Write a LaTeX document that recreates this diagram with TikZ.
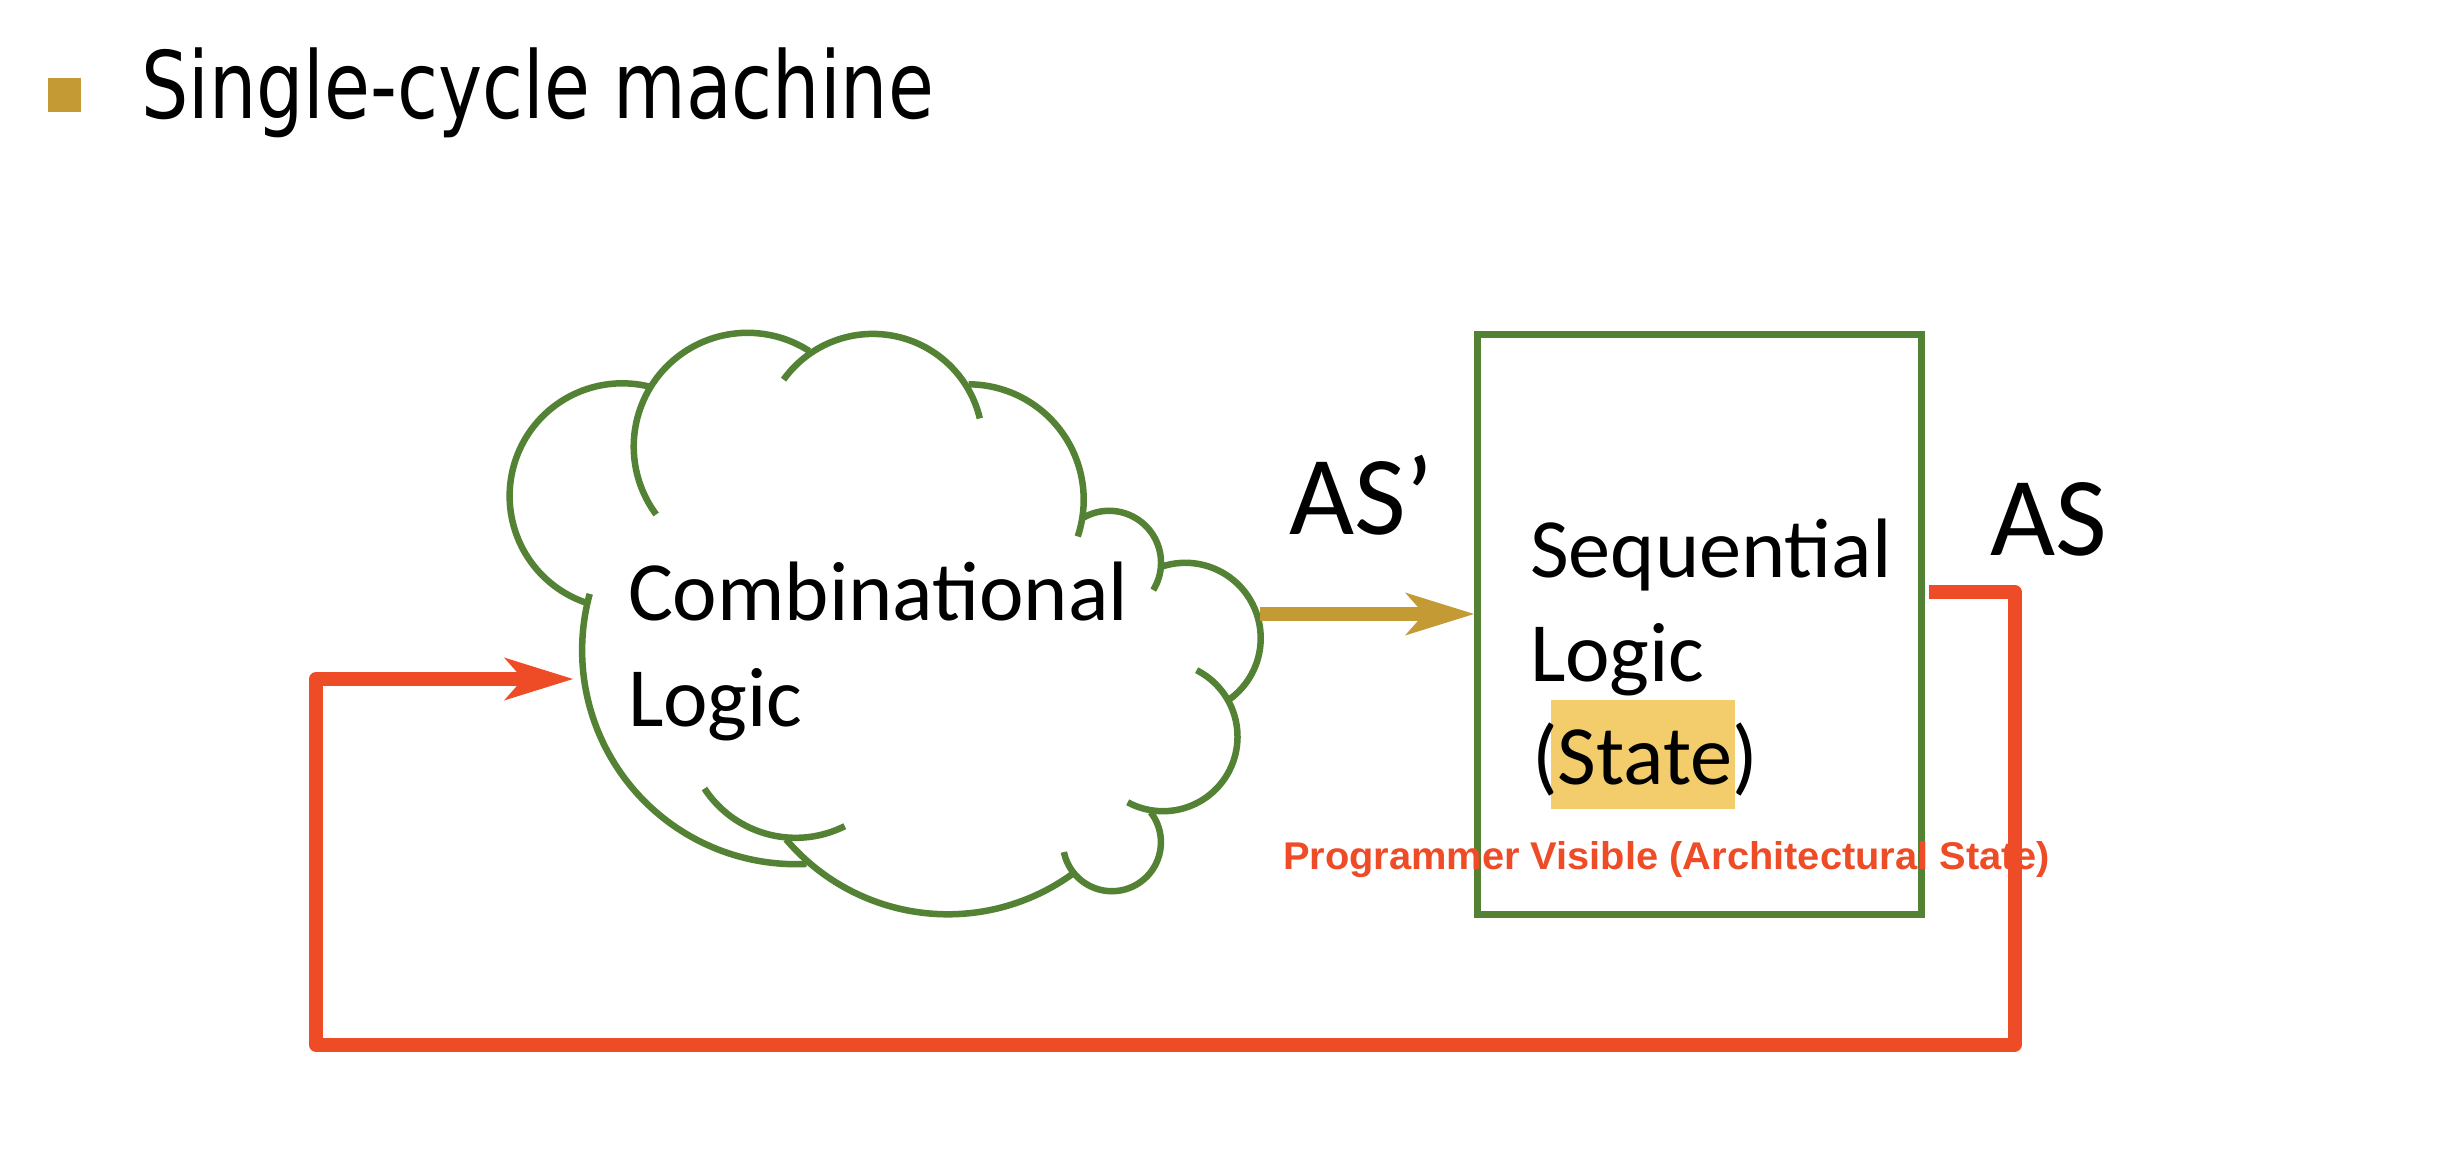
\documentclass[tikz,border=0pt]{standalone}
\usepackage{fontspec}
\setmainfont{Carlito}
\newfontfamily\titlefont{DejaVu Sans Condensed}
\newfontfamily\notefont{Liberation Sans}
\usetikzlibrary{arrows.meta}
\definecolor{cgreen}{HTML}{548235}
\definecolor{cgold}{HTML}{C49A34}
\definecolor{cred}{HTML}{EE4B27}
\definecolor{chigh}{HTML}{F3CC6C}
\tikzset{
  lobe/.style={draw=cgreen, line width=0.65mm},
  txt/.style={anchor=base west, inner sep=0pt, outer sep=0pt},
  bodytext/.style={txt, font=\fontsize{24}{29}\selectfont},
  astext/.style={txt, font=\fontsize{32}{38}\selectfont},
  headtip/.style={-{Stealth[length=6.9mm,width=4.3mm,inset=1.9mm,line width=0pt]}},
  goldflow/.style={draw=cgold, line width=1.4mm, headtip},
  redflow/.style={draw=cred, line width=1.4mm, line join=round, headtip}
}
% arc of the cloud: centre x, centre y, radius, start angle, end angle
\newcommand{\cloudarc}[5]{\draw[lobe] plot[domain=#4:#5, samples=72, variable=\t] ({#1+#3*cos(\t)},{#2+#3*sin(\t)});}
\begin{document}
\begin{tikzpicture}[x=0.1mm,y=-0.1mm]
\useasboundingbox (0,0) rectangle (2464,1148);
\fill[white] (0,0) rectangle (2464,1148);

% title
\node[fill=cgold, minimum width=3.3mm, minimum height=3.4mm, inner sep=0pt] (bullet) at (64.5,95.5) {};
\node[txt, font=\titlefont\fontsize{26.5}{30}\selectfont] (title) at (141,118) {\scalebox{0.89}[1]{Single-cycle machine}};

% cloud
\cloudarc{622.3}{496.0}{112.7}{106.8}{283.9}
\cloudarc{747.5}{446.6}{113.8}{143.4}{302.8}
\cloudarc{872.8}{443.9}{110}{215.75}{346.6}
\cloudarc{968.2}{499.8}{115.5}{270.2}{378.5}
\cloudarc{1109.1}{562.7}{51.9}{238.3}{391.8}
\cloudarc{1185.3}{638.2}{75.4}{251.1}{413.9}
\cloudarc{1163.0}{736.7}{74.5}{-63.2}{118.3}
\cloudarc{1111.9}{842.2}{49}{-37.6}{168.4}
\cloudarc{947.9}{702.0}{212.3}{54}{139.7}
\cloudarc{796.0}{650.3}{213.9}{87.2}{195.3}
\cloudarc{795.7}{728.6}{109.2}{63.3}{146.7}

\node[bodytext] (comb1) at (628,620) {Combinational};
\node[bodytext] (comb2) at (628,726) {Logic};

% sequential box
\node[draw=cgreen, line width=0.7mm, minimum width=44.4mm, minimum height=57.95mm, inner sep=0pt] (seq) at (1699.5,624.25) {};
\fill[chigh] (1551,699.5) rectangle (1735,809);
\node[bodytext] (seq1) at (1530,577) {Sequential};
\node[bodytext] (seq2) at (1530,681) {Logic};
\node[bodytext] (seq3) at (1532,784) {(State)};

\node[txt, font=\notefont\bfseries\fontsize{11}{13}\selectfont, text=cred] (note) at (1283,869) {\scalebox{1.03}[1]{Programmer Visible (Architectural State)}};

% labels
\node[astext] (asp) at (1289,534) {AS’};
\node[astext] (as) at (1990,555) {AS};

% connectors
\coordinate (cloudR) at (1260,614);
\coordinate (cloudL) at (573,679);
\coordinate (asout) at (1929,592);
\coordinate (c1) at (2014.5,592);
\coordinate (c2) at (2014.5,1044.5);
\coordinate (c3) at (316,1044.5);
\coordinate (c4) at (316,679);
\draw[goldflow] (cloudR) -- (cloudR -| seq.west);
\draw[redflow] (asout) -- (c1) -- (c2) -- (c3) -- (c4) -- (cloudL);
\end{tikzpicture}
\end{document}
